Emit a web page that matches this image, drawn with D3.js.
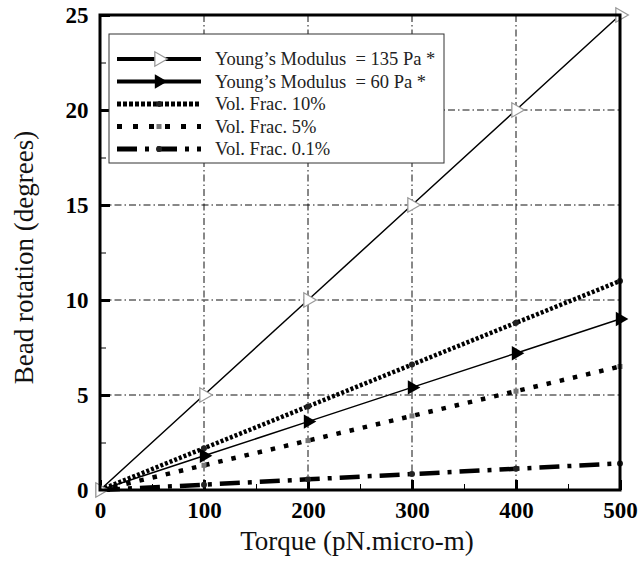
<!DOCTYPE html>
<html>
<head>
<meta charset="utf-8">
<script src="https://cdn.jsdelivr.net/npm/d3@7"></script>
<style>
  body { margin: 0; background: #fff; }
</style>
</head>
<body>
<div id="chart"></div>
<script>
'use strict';

// Data
var torque = [0, 100, 200, 300, 400, 500];
var young135 = [0, 5, 10, 15, 20, 25];
var young60 = [0, 1.8, 3.6, 5.4, 7.2, 9.0];
var vol10 = [0, 2.2, 4.4, 6.6, 8.8, 11.0];
var vol5 = [0, 1.3, 2.6, 3.9, 5.2, 6.5];
var vol01 = [0, 0.28, 0.56, 0.84, 1.12, 1.4];
var xTicks = [0, 100, 200, 300, 400, 500];
var yTicks = [0, 5, 10, 15, 20, 25];
var seriesNames = [
  'Young\u2019s Modulus  = 135 Pa *',
  'Young\u2019s Modulus  = 60 Pa *',
  'Vol. Frac. 10%',
  'Vol. Frac. 5%',
  'Vol. Frac. 0.1%'
];

var FONT = '"Liberation Serif", "Times New Roman", serif';

// Layout
var margin = {top: 15, right: 20, bottom: 71, left: 100};
var W = 640, H = 561;
var width = W - margin.left - margin.right;
var height = H - margin.top - margin.bottom;

var x = d3.scaleLinear().domain([0, 500]).range([0, width]);
var y = d3.scaleLinear().domain([0, 25]).range([height, 0]);

var svg = d3.select('#chart').append('svg')
  .attr('width', W)
  .attr('height', H)
  .style('font-family', FONT)
  .append('g')
  .attr('transform', 'translate(' + margin.left + ',' + margin.top + ')');

// Grid lines (dash-dot)
svg.selectAll('.vgrid')
  .data(xTicks.slice(1, -1))
  .enter().append('line')
  .attr('x1', function(d) { return x(d); })
  .attr('x2', function(d) { return x(d); })
  .attr('y1', 0).attr('y2', height)
  .attr('stroke', '#111').attr('stroke-width', 1)
  .attr('stroke-dasharray', '7,3,1.5,3');
svg.selectAll('.hgrid')
  .data(yTicks.slice(1, -1))
  .enter().append('line')
  .attr('y1', function(d) { return y(d); })
  .attr('y2', function(d) { return y(d); })
  .attr('x1', 0).attr('x2', width)
  .attr('stroke', '#111').attr('stroke-width', 1)
  .attr('stroke-dasharray', '7,3,1.5,3');

// Axes with inward ticks
var xAxis = d3.axisBottom(x).tickValues(xTicks).tickSize(-10).tickPadding(15);
var yAxis = d3.axisLeft(y).tickValues(yTicks).tickSize(-10).tickPadding(15);

var gx = svg.append('g').attr('transform', 'translate(0,' + height + ')').call(xAxis);
var gy = svg.append('g').call(yAxis);
[gx, gy].forEach(function(g) {
  g.attr('font-family', null).attr('font-size', null);
  g.select('.domain').remove();
  g.selectAll('line').attr('stroke', '#000').attr('stroke-width', 3);
  g.selectAll('text')
    .style('font-family', FONT)
    .style('font-weight', 'bold')
    .style('font-size', '23px')
    .attr('fill', '#000');
});
gx.selectAll('text').attr('dy', '0.55em');
gy.selectAll('text').attr('dx', '0.15em');

// Minor ticks
var xMinor = d3.axisBottom(x).tickValues([50, 150, 250, 350, 450]).tickSize(-6).tickFormat('');
var yMinor = d3.axisLeft(y).tickValues([2.5, 7.5, 12.5, 17.5, 22.5]).tickSize(-6).tickFormat('');
[svg.append('g').attr('transform', 'translate(0,' + height + ')').call(xMinor),
 svg.append('g').call(yMinor)].forEach(function(g) {
  g.select('.domain').remove();
  g.selectAll('line').attr('stroke', '#000').attr('stroke-width', 1);
});

// Series definitions
var series = [
  {name: seriesNames[0], values: young135, width: 1.5, dash: null, marker: 'open'},
  {name: seriesNames[1], values: young60, width: 1.5, dash: null, marker: 'filled'},
  {name: seriesNames[2], values: vol10, width: 4.5, dash: '3,2', marker: 'dot'},
  {name: seriesNames[3], values: vol5, width: 4.5, dash: '4.5,9', marker: 'square'},
  {name: seriesNames[4], values: vol01, width: 4.5, dash: '20,8,4,8', marker: 'dot'}
];

var line = d3.line()
  .x(function(d) { return x(d[0]); })
  .y(function(d) { return y(d[1]); });

var triangle = d3.symbol().type(d3.symbolTriangle).size(90);

function drawMarker(g, type, px, py) {
  if (type === 'open') {
    g.append('path').attr('d', triangle())
      .attr('transform', 'translate(' + px + ',' + py + ') rotate(90)')
      .attr('fill', '#fff').attr('stroke', '#999').attr('stroke-width', 1.3);
  } else if (type === 'filled') {
    g.append('path').attr('d', triangle())
      .attr('transform', 'translate(' + px + ',' + py + ') rotate(90)')
      .attr('fill', '#000');
  } else if (type === 'dot') {
    g.append('circle').attr('cx', px).attr('cy', py).attr('r', 3).attr('fill', '#222');
  } else if (type === 'square') {
    g.append('rect').attr('x', px - 2.5).attr('y', py - 2.5)
      .attr('width', 5).attr('height', 5).attr('fill', '#777');
  }
}

var plot = svg.append('g');
series.slice().reverse().forEach(function(s) {
  var pts = torque.map(function(t, i) { return [t, s.values[i]]; });
  plot.append('path')
    .attr('d', line(pts))
    .attr('fill', 'none')
    .attr('stroke', '#000')
    .attr('stroke-width', s.width)
    .attr('stroke-dasharray', s.dash);
  pts.forEach(function(p) {
    drawMarker(plot, s.marker, x(p[0]), y(p[1]));
  });
});

// Frame
svg.append('rect')
  .attr('width', width).attr('height', height)
  .attr('fill', 'none').attr('stroke', '#000').attr('stroke-width', 3);

// Legend
var legend = svg.append('g').attr('transform', 'translate(9,19)');
legend.append('rect')
  .attr('width', 335).attr('height', 129)
  .attr('fill', '#fff').attr('stroke', '#333').attr('stroke-width', 1);
series.forEach(function(s, i) {
  var ly = 25 + i * 22.5;
  var row = legend.append('g');
  row.append('line')
    .attr('x1', 8).attr('x2', 92).attr('y1', ly).attr('y2', ly)
    .attr('stroke', '#000')
    .attr('stroke-width', i < 2 ? 4 : 5)
    .attr('stroke-dasharray', i === 2 ? '4,2' : (i === 3 ? '5,11' : (i === 4 ? '20,8,4,8' : null)));
  drawMarker(row, s.marker, 50, ly);
  row.append('text')
    .attr('x', 106).attr('y', ly + 6)
    .style('font-family', FONT)
    .style('font-size', '18.5px')
    .style('white-space', 'pre')
    .attr('fill', '#222')
    .text(s.name);
});

// Axis titles
svg.append('text')
  .attr('x', width / 2 - 3).attr('y', height + 60)
  .attr('text-anchor', 'middle')
  .style('font-family', FONT)
  .style('font-size', '27px')
  .attr('fill', '#111')
  .text('Torque (pN.micro-m)');
svg.append('text')
  .attr('transform', 'translate(-67,' + (height / 2 + 5) + ') rotate(-90)')
  .attr('text-anchor', 'middle')
  .style('font-family', FONT)
  .style('font-size', '27px')
  .attr('fill', '#111')
  .text('Bead rotation (degrees)');
</script>
</body>
</html>
